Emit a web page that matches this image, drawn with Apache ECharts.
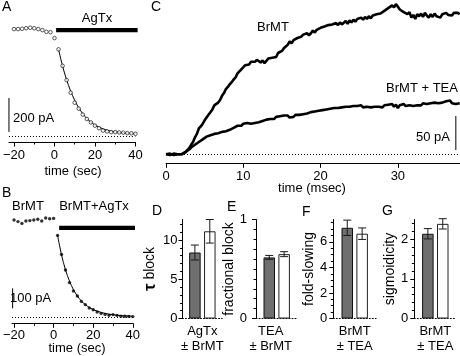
<!DOCTYPE html>
<html>
<head>
<meta charset="utf-8">
<script src="https://cdn.jsdelivr.net/npm/echarts@6/dist/echarts.min.js"></script>
<style>
  html, body { margin: 0; padding: 0; background: #fff; }
  #chart { width: 460px; height: 356px; }
</style>
</head>
<body>
<div id="chart"></div>
<script>
// ---------------- DATA ----------------
// Panel A: AgTx block time course (pA vs sec)
const aPreTime = [-20, -18, -16, -14, -12, -10, -8, -6, -4, -2, 0];
const aPreCurrent = [633, 633, 635, 638, 641, 638, 633, 627, 617, 615, 580];
const aDecayTime = [2, 4, 6, 8, 10, 12, 14, 16, 18, 20, 22, 24, 26, 28, 30, 32, 34, 36, 38, 40];
const aDecayCurrent = [514, 417, 333, 259, 200, 165, 130, 104, 84, 65, 50, 36, 31, 27, 27, 25, 24, 21, 20, 17];
const aFitCurrent = [514, 415, 335, 268, 214, 170, 135, 107, 86, 69, 56, 46, 38, 32, 28, 25, 22, 20, 19, 18];
const aToxinSpan = [0.8, 41.1];
const aToxinLevel = 627;
const aScaleBar = [28, 228];           // 200 pA
const aXTicksMajor = [-20, 0, 20, 40];
const aXTicksMinor = [-10, 10, 30];

// Panel B: AgTx block in BrMT
const bPreTime = [-20, -18, -16, -14, -12, -10, -8, -6, -4, -2, 0];
const bPreCurrent = [485, 477, 468, 480, 482, 485, 489, 480, 495, 491, 493];
const bDecayTime = [2, 4, 6, 8, 10, 12, 14, 16, 18, 20, 22, 24, 26, 28, 30, 32, 34, 36, 38, 40];
const bDecayCurrent = [408, 313, 235, 172, 130, 105, 78, 62, 45, 36, 25, 18, 13, 9, 12, 8, 4, 4, 3, 2];
const bFitCurrent = [408, 310, 236, 180, 137, 105, 80, 62, 48, 37, 29, 23, 18, 14, 11, 9, 7, 6, 5, 4];
const bToxinSpan = [2.8, 42.3];
const bToxinLevel = 446;
const bScaleBar = [43.5, 143.5];       // 100 pA
const bXTicksMajor = [-20, 0, 20, 40];
const bXTicksMinor = [-10, 10, 30];

// Panel C: current traces (pA), sampled every cDt msec
const cDt = 0.25;
const brmtTrace = [
  0,-1,1,0,-1,1,0,1,
  0,2,3,6,9,14,18,25,
  30,38,41,45,50,52,58,62,
  66,72,71,76,80,86,90,96,
  99,103,106,110,113,119,121,125,
  127,131,133,132,136,138,136,139,
  137,135,138,134,136,141,139,142,
  144,143,149,151,152,156,157,161,
  166,163,168,167,171,169,173,176,
  174,178,175,178,182,179,183,181,
  186,184,188,186,190,188,191,189,
  193,190,194,191,193,196,192,197,
  194,198,195,199,197,201,198,202,
  199,203,200,204,202,206,204,207,
  205,211,209,215,213,219,216,221,
  219,213,215,209,211,206,209,201,
  205,199,206,203,207,202,208,204,
  201,206,202,207,203,205,201,206,
  204,208,205,207,204,208,206,208,
  206
];
const teaTrace = [
  0,1,-1,0,1,-1,0,1,
  0,1,3,5,7,10,11,14,
  15,18,19,22,23,26,25,28,
  27,30,29,31,30,33,32,34,
  33,36,37,39,38,42,43,42,
  45,44,46,44,45,44,46,45,
  47,46,49,48,51,50,52,54,
  52,55,53,56,54,57,55,57,
  54,56,55,58,56,58,57,59,
  58,60,59,62,60,63,62,64,
  63,65,64,66,65,67,65,68,
  66,68,67,69,67,70,68,70,
  69,71,69,71,70,72,69,71,
  70,72,69,71,70,72,70,71,
  69,72,70,73,71,74,70,73,
  68,72,70,74,71,73,72,74,
  71,73,72,74,72,75,73,74,
  72,75,74,76,74,75,73,76,
  75,78,76,79,75,77,74,76,
  75
];
const cXTicks = [0, 10, 20, 30];
const cScaleBarTime = 37.5;
const cScaleBar = [6.3, 56.3];         // 50 pA

// Panels D-G: bar summaries (control = gray, test = white)
const barCategories = ['AgTx\n\u00b1 BrMT', 'TEA\n\u00b1 BrMT', 'BrMT\n\u00b1 TEA', 'BrMT\n\u00b1 TEA'];
const barAxisTitles = ['{t|\u03c4} block', 'fractional block', 'fold-slowing', 'sigmoidicity'];
const barControl = [8.4, 0.617, 7.1, 2.14];
const barControlErr = [0.95, 0.02, 0.6, 0.13];
const barTest = [11.1, 0.65, 6.64, 2.39];
const barTestErr = [1.5, 0.025, 0.45, 0.13];
const barYMax = [12.6, 1, 7.75, 2.5];
const barMajorTicks = [[0, 5, 10], [0, 1], [0, 2, 4, 6], [0, 1, 2]];
const barMinorTicks = [
  [1, 2, 3, 4, 6, 7, 8, 9, 11, 12],
  [0.1, 0.2, 0.3, 0.4, 0.5, 0.6, 0.7, 0.8, 0.9],
  [0.5, 1, 1.5, 2.5, 3, 3.5, 4.5, 5, 5.5, 6.5, 7, 7.5],
  [0.2, 0.4, 0.6, 0.8, 1.2, 1.4, 1.6, 1.8, 2.2, 2.4]
];

// ---------------- LAYOUT / STYLE ----------------
const FONT = 'Liberation Sans';
const BLACK = '#000';
const BAR_W = 11.5;
const BAR_GAP_PX = 3.4;
const CAP = 4;
const barGrids = [
  { left: 182.5, width: 39.7, nameGap: 17, margin: 5, labelPad: [0, 0, 0, 0] },
  { left: 256, width: 41.4, nameGap: 12, margin: 9, labelPad: [0, 12, 0, 0] },
  { left: 333.3, width: 42.8, nameGap: 17, margin: 6, labelPad: [0, 0, 0, 0] },
  { left: 414.3, width: 42, nameGap: 13, margin: 6, labelPad: [0, 0, 0, 0] }
];

const minusFmt = v => (v < 0 ? '\u2212' + Math.abs(v) : String(v));
const pairs = (xs, ys) => xs.map((x, i) => [x, ys[i]]);

const grids = [
  { left: 7.3, top: 17.7, width: 128.1, height: 119 },     // A
  { left: 5.3, top: 217, width: 127.5, height: 100 },      // B
  { left: 166, top: 1.3, width: 293.7, height: 153 },      // C
];
barGrids.forEach(g => grids.push({ left: g.left, top: 219.5, width: g.width, height: 99 }));

function timeAxes(gi, min, max, offset, major, minor, margin) {
  return [
    { gridIndex: gi, type: 'value', min, max, position: 'bottom', offset,
      axisLine: { onZero: false, lineStyle: { color: BLACK, width: 1 } },
      axisTick: { customValues: major, length: 4.5, lineStyle: { color: BLACK } },
      axisLabel: { customValues: major, formatter: minusFmt, margin, fontSize: 13, color: BLACK, fontFamily: FONT },
      splitLine: { show: false } },
    { gridIndex: gi, type: 'value', min, max, position: 'bottom', offset,
      axisLine: { show: false, onZero: false },
      axisTick: { show: minor.length > 0, customValues: minor.length ? minor : [min], length: 2.5, lineStyle: { color: BLACK } },
      axisLabel: { show: false }, splitLine: { show: false } }
  ];
}

const xAxes = [].concat(
  timeAxes(0, -22.5, 40, 5.3, aXTicksMajor, aXTicksMinor, 7),
  timeAxes(1, -21, 40, 6.3, bXTicksMajor, bXTicksMinor, 6),
  timeAxes(2, 0, 38, 9, cXTicks, [], 7)
);
// indices: A 0,1 ; B 2,3 ; C 4,5 ; bar panels 6..9
barCategories.forEach((c, k) => {
  xAxes.push({
    gridIndex: 3 + k, type: 'category', data: [c],
    axisLine: { lineStyle: { color: BLACK, type: [1, 2], width: 1 } },
    axisTick: { show: false },
    axisLabel: { fontSize: 13, lineHeight: 15, margin: 5, color: BLACK, fontFamily: FONT, padding: barGrids[k].labelPad }
  });
});

const yAxes = [
  { gridIndex: 0, type: 'value', min: 0, max: 700, show: false },
  { gridIndex: 1, type: 'value', min: 0, max: 500, show: false },
  { gridIndex: 2, type: 'value', min: 0, max: 225, show: false }
];
// bar panels: major axis at 3+2k, minor overlay at 4+2k
barCategories.forEach((c, k) => {
  yAxes.push({
    gridIndex: 3 + k, type: 'value', position: 'left', min: 0, max: barYMax[k],
    axisLine: { show: true, onZero: false, lineStyle: { color: BLACK, width: 1 } },
    axisTick: { show: true, customValues: barMajorTicks[k], length: 4, lineStyle: { color: BLACK } },
    axisLabel: { customValues: barMajorTicks[k], margin: barGrids[k].margin, fontSize: 13, color: BLACK, fontFamily: FONT },
    splitLine: { show: false },
    name: barAxisTitles[k], nameLocation: 'middle', nameGap: barGrids[k].nameGap,
    nameTextStyle: { fontSize: 14, color: BLACK, fontFamily: FONT,
      rich: { t: { fontSize: 17, fontWeight: 'bold', fontFamily: FONT, color: BLACK } } }
  });
  yAxes.push({
    gridIndex: 3 + k, type: 'value', position: 'left', min: 0, max: barYMax[k],
    axisLine: { show: false, onZero: false },
    axisTick: { show: true, customValues: barMinorTicks[k], length: 2.5, lineStyle: { color: BLACK } },
    axisLabel: { show: false }, splitLine: { show: false }
  });
});

const zeroLine = {
  silent: true, symbol: ['none', 'none'], label: { show: false }, animation: false,
  lineStyle: { color: BLACK, type: [1, 2], width: 1 }, data: [{ yAxis: 0 }]
};
const plainLine = (xi, yi, data, width, extra) => Object.assign({
  type: 'line', xAxisIndex: xi, yAxisIndex: yi, data, symbol: 'none', clip: false,
  lineStyle: { color: BLACK, width }, silent: true, animation: false
}, extra || {});

const series = [
  // ---- A ----
  plainLine(0, 0, pairs(aDecayTime, aFitCurrent), 1, { smooth: 0.35, markLine: zeroLine }),
  plainLine(0, 0, aToxinSpan.map(t => [t, aToxinLevel]), 4.2, { lineStyle: { color: BLACK, width: 4.2, cap: 'butt' } }),
  plainLine(0, 0, aScaleBar.map(v => [-22.5, v]), 1),
  { type: 'scatter', xAxisIndex: 0, yAxisIndex: 0, data: pairs(aPreTime, aPreCurrent).concat(pairs(aDecayTime, aDecayCurrent)),
    symbol: 'circle', symbolSize: 3.6, itemStyle: { color: '#fff', borderColor: BLACK, borderWidth: 0.8 }, z: 4, animation: false, silent: true },
  // ---- B ----
  plainLine(2, 1, pairs(bDecayTime, bFitCurrent), 1, { smooth: 0.35, markLine: zeroLine }),
  plainLine(2, 1, bToxinSpan.map(t => [t, bToxinLevel]), 4.2, { lineStyle: { color: BLACK, width: 4.2, cap: 'butt' } }),
  plainLine(2, 1, bScaleBar.map(v => [-20.7, v]), 1),
  { type: 'scatter', xAxisIndex: 2, yAxisIndex: 1, data: pairs(bPreTime, bPreCurrent).concat(pairs(bDecayTime, bDecayCurrent)),
    symbol: 'circle', symbolSize: 3.4, itemStyle: { color: BLACK }, z: 4, animation: false, silent: true },
  // ---- C ----
  plainLine(4, 2, brmtTrace.map((v, i) => [i * cDt, v]), 2.6, { markLine: zeroLine }),
  plainLine(4, 2, teaTrace.map((v, i) => [i * cDt, v]), 2.6),
  plainLine(4, 2, cScaleBar.map(v => [cScaleBarTime, v]), 1)
];

// ---- D-G bars + error bars ----
const barOffsets = [-(BAR_W + BAR_GAP_PX) / 2, (BAR_W + BAR_GAP_PX) / 2];
barCategories.forEach((c, k) => {
  const xi = 6 + k, yi = 3 + 2 * k;
  series.push({ type: 'bar', xAxisIndex: xi, yAxisIndex: yi, data: [barControl[k]], barWidth: BAR_W,
    barGap: (BAR_GAP_PX / BAR_W * 100) + '%', itemStyle: { color: '#6f6f6f', borderColor: '#111', borderWidth: 1 },
    animation: false, silent: true });
  series.push({ type: 'bar', xAxisIndex: xi, yAxisIndex: yi, data: [barTest[k]], barWidth: BAR_W,
    barGap: (BAR_GAP_PX / BAR_W * 100) + '%', itemStyle: { color: '#fff', borderColor: '#222', borderWidth: 1 },
    animation: false, silent: true });
  series.push({
    type: 'custom', xAxisIndex: xi, yAxisIndex: yi, z: 5, animation: false, silent: true,
    data: [[0, barControl[k], barControlErr[k], 0], [0, barTest[k], barTestErr[k], 1]],
    encode: { x: 0, y: 1 },
    renderItem: function (params, api) {
      const v = api.value(1), e = api.value(2), side = api.value(3);
      const x = api.coord([0, v])[0] + barOffsets[side];
      const yt = api.coord([0, v + e])[1];
      const yb = api.coord([0, v - e])[1];
      const st = { stroke: '#1a1a1a', lineWidth: 1 };
      return { type: 'group', children: [
        { type: 'line', shape: { x1: x, y1: yt, x2: x, y2: yb }, style: st },
        { type: 'line', shape: { x1: x - CAP, y1: yt, x2: x + CAP, y2: yt }, style: st },
        { type: 'line', shape: { x1: x - CAP, y1: yb, x2: x + CAP, y2: yb }, style: st }
      ] };
    }
  });
});

// ---- text annotations ----
const txt = (text, x, y, align, size) => ({
  type: 'text', x, y, silent: true, z: 10,
  style: { text, fill: BLACK, font: (size || 13) + 'px "' + FONT + '"', align: align || 'center', verticalAlign: 'middle' }
});
const graphics = [
  txt('A', 2, 7, 'left', 14),
  txt('AgTx', 97, 18),
  txt('200 pA', 13, 118, 'left'),
  txt('time (sec)', 73, 171),
  txt('B', 2, 193, 'left', 14),
  txt('BrMT', 28, 206),
  txt('BrMT+AgTx', 94, 206),
  txt('100 pA', 10, 298, 'left'),
  txt('time (sec)', 77, 348),
  txt('C', 151, 7, 'left', 14),
  txt('BrMT', 273, 27),
  txt('BrMT + TEA', 422, 88),
  txt('50 pA', 450, 137, 'right'),
  txt('time (msec)', 312, 188),
  txt('D', 152, 211, 'left', 14),
  txt('E', 227, 207.5, 'left', 14),
  txt('F', 302, 212.5, 'left', 14),
  txt('G', 382, 211.5, 'left', 14)
];

const chart = echarts.init(document.getElementById('chart'), null, { renderer: 'canvas' });
chart.setOption({
  animation: false,
  backgroundColor: '#fff',
  textStyle: { fontFamily: FONT, color: BLACK },
  grid: grids,
  xAxis: xAxes,
  yAxis: yAxes,
  series,
  graphic: graphics
});
</script>
</body>
</html>
